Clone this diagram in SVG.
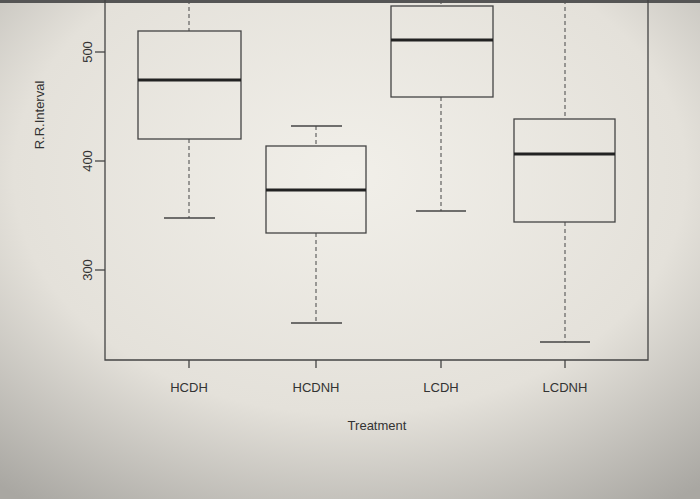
<svg xmlns="http://www.w3.org/2000/svg" width="700" height="499" viewBox="0 0 700 499">
<defs>
<radialGradient id="bg" cx="0.5" cy="0.35" r="0.8">
<stop offset="0" stop-color="#f1efe9"/><stop offset="0.6" stop-color="#e4e1da"/><stop offset="1" stop-color="#a9a7a2"/>
</radialGradient>
<style>
.ln{stroke:#444;stroke-width:1.3;fill:none}
.bx{stroke:#444;stroke-width:1.3;fill:none}
.md{stroke:#222;stroke-width:3}
.ds{stroke:#555;stroke-width:1.1;stroke-dasharray:4 3}
text{font-family:"Liberation Sans",Arial,sans-serif;fill:#333;font-size:13px}
</style>
</defs>
<rect width="700" height="499" fill="url(#bg)"/>
<rect x="0" y="0" width="700" height="3" fill="#555"/>
<g id="axes" class="ln">
<polyline points="105,0 105,360 648,360 648,0"/>
<line x1="95" y1="52" x2="105" y2="52"/><line x1="95" y1="161" x2="105" y2="161"/><line x1="95" y1="270" x2="105" y2="270"/>
<line x1="189" y1="360" x2="189" y2="368"/><line x1="316" y1="360" x2="316" y2="368"/><line x1="441" y1="360" x2="441" y2="368"/><line x1="565" y1="360" x2="565" y2="368"/>
</g>
<g id="labels">
<text transform="translate(92,52) rotate(-90)" text-anchor="middle">500</text>
<text transform="translate(92,161) rotate(-90)" text-anchor="middle">400</text>
<text transform="translate(92,270) rotate(-90)" text-anchor="middle">300</text>
<text transform="translate(44,115) rotate(-90)" text-anchor="middle">R.R.Interval</text>
<text x="189" y="392" text-anchor="middle">HCDH</text>
<text x="316" y="392" text-anchor="middle">HCDNH</text>
<text x="441" y="392" text-anchor="middle">LCDH</text>
<text x="565" y="392" text-anchor="middle">LCDNH</text>
<text x="377" y="430" text-anchor="middle">Treatment</text>
</g>
<g id="HCDH">
<line class="ds" x1="189" y1="0" x2="189" y2="31"/><line class="ds" x1="189" y1="139" x2="189" y2="218"/>
<line class="ln" x1="164" y1="218" x2="215" y2="218"/>
<rect class="bx" x="138" y="31" width="103" height="108"/><line class="md" x1="138" y1="80" x2="241" y2="80"/>
</g>
<g id="HCDNH">
<line class="ds" x1="316" y1="126" x2="316" y2="146"/><line class="ds" x1="316" y1="233" x2="316" y2="323"/>
<line class="ln" x1="291" y1="126" x2="342" y2="126"/><line class="ln" x1="291" y1="323" x2="342" y2="323"/>
<rect class="bx" x="266" y="146" width="100" height="87"/><line class="md" x1="266" y1="190" x2="366" y2="190"/>
</g>
<g id="LCDH">
<line class="ds" x1="441" y1="0" x2="441" y2="6"/><line class="ds" x1="441" y1="97" x2="441" y2="211"/>
<line class="ln" x1="416" y1="211" x2="466" y2="211"/>
<rect class="bx" x="391" y="6" width="102" height="91"/><line class="md" x1="391" y1="40" x2="493" y2="40"/>
</g>
<g id="LCDNH">
<line class="ds" x1="565" y1="0" x2="565" y2="119"/><line class="ds" x1="565" y1="222" x2="565" y2="342"/>
<line class="ln" x1="540" y1="342" x2="590" y2="342"/>
<rect class="bx" x="514" y="119" width="101" height="103"/><line class="md" x1="514" y1="154" x2="615" y2="154"/>
</g>
</svg>
